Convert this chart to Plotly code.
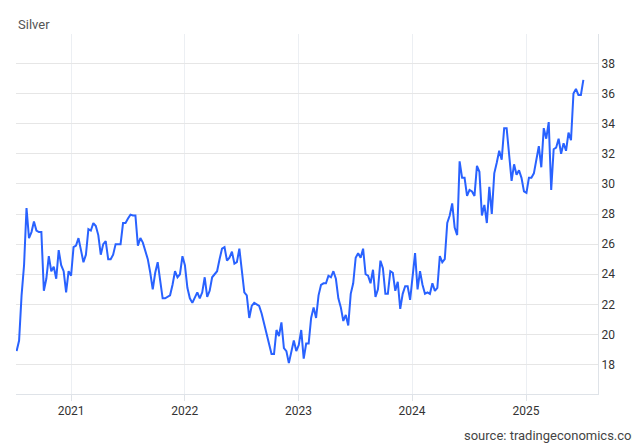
import pandas as pd
import plotly.graph_objects as go

values = [18.9,19.6,22.6,24.6,28.4,26.4,26.8,27.5,26.9,26.8,26.8,22.9,23.7,25.2,24.2,24.5,23.7,25.6,24.6,24.2,22.8,24.2,23.9,25.8,25.9,26.4,25.6,24.8,25.3,27.0,26.9,27.4,27.2,26.6,25.3,26.0,26.2,25.0,25.0,25.3,26.0,26.0,26.0,27.4,27.4,27.7,27.96,27.9,27.9,25.9,26.4,26.1,25.5,25.0,24.1,23.0,24.1,24.8,23.6,22.4,22.4,22.5,22.6,23.3,24.2,23.8,24.0,25.2,24.6,23.1,22.4,22.1,22.4,22.8,22.4,22.8,23.8,22.5,22.9,23.8,24.0,24.2,25.0,25.7,25.8,24.9,25.1,25.5,24.7,24.8,25.7,24.1,22.8,22.6,21.1,21.9,22.1,22.0,21.9,21.4,20.7,19.9,19.3,18.7,18.7,20.3,19.9,20.8,19.1,18.9,18.1,18.9,19.6,18.9,19.3,20.3,18.4,19.4,19.4,21.1,21.8,21.1,22.6,23.3,23.4,23.4,23.9,23.8,24.2,23.7,22.4,21.8,20.9,21.3,20.6,22.7,23.4,25.1,25.4,25.1,25.7,24.0,23.9,23.4,24.3,22.5,23.0,24.9,24.4,22.7,22.7,24.2,24.1,22.9,23.5,21.7,22.7,23.2,23.2,22.3,24.0,25.4,23.0,24.2,23.3,22.7,22.8,22.7,23.4,22.9,23.1,25.2,24.8,25.0,27.4,27.9,28.7,27.1,26.6,31.5,30.4,30.4,29.2,29.6,29.5,29.2,31.2,30.8,27.9,28.6,27.4,29.8,28.0,30.7,31.4,32.2,31.6,33.7,33.7,31.8,30.2,31.3,30.6,30.9,30.4,29.5,29.4,30.4,30.4,30.7,31.7,32.5,31.1,33.7,33.0,34.1,29.6,32.3,32.4,33.0,32.0,32.7,32.2,33.4,32.9,36.0,36.3,35.9,35.9,36.9]
dates = pd.date_range("2020-07-10", "2025-07-04", periods=len(values))
year_ticks = ["2021-01-01", "2022-01-01", "2023-01-01", "2024-01-01", "2025-01-01"]
year_labels = ["2021", "2022", "2023", "2024", "2025"]
price_ticks = list(range(18, 40, 2))

fig = go.Figure(go.Scatter(x=dates, y=values, mode="lines",
                           line=dict(color="#2962ff", width=2)))
fig.update_layout(
    width=640, height=444, paper_bgcolor="white", plot_bgcolor="white",
    margin=dict(l=8, r=50, t=26, b=58, autoexpand=False), showlegend=False,
    font=dict(family="Roboto, Arial", color="#333"),
)
fig.add_annotation(text="Silver", xref="paper", yref="paper", x=0.0, y=1.0, yshift=10,
                   xanchor="left", yanchor="middle", showarrow=False, font=dict(size=13, color="#555"))
fig.add_annotation(text="source: tradingeconomics.com", xref="paper", yref="paper", x=1.08, y=0, yshift=-41,
                   xanchor="right", yanchor="middle", showarrow=False, font=dict(size=13, color="#444"))
fig.update_xaxes(range=["2020-07-08", "2025-08-20"], showgrid=True, gridcolor="#eceff3",
                 tickvals=year_ticks, ticktext=year_labels, tickfont=dict(size=12, color="#333"),
                 showline=True, linecolor="#dfe3e8", ticks="outside", ticklen=6, tickcolor="#dfe3e8")
fig.update_yaxes(range=[16.05, 39.95], side="right", showgrid=True, gridcolor="#e6e6e6",
                 tickvals=price_ticks, tickfont=dict(size=12, color="#333"), zeroline=False,
                 showline=True, linecolor="#dfe3e8")
fig.write_html("out.html")
